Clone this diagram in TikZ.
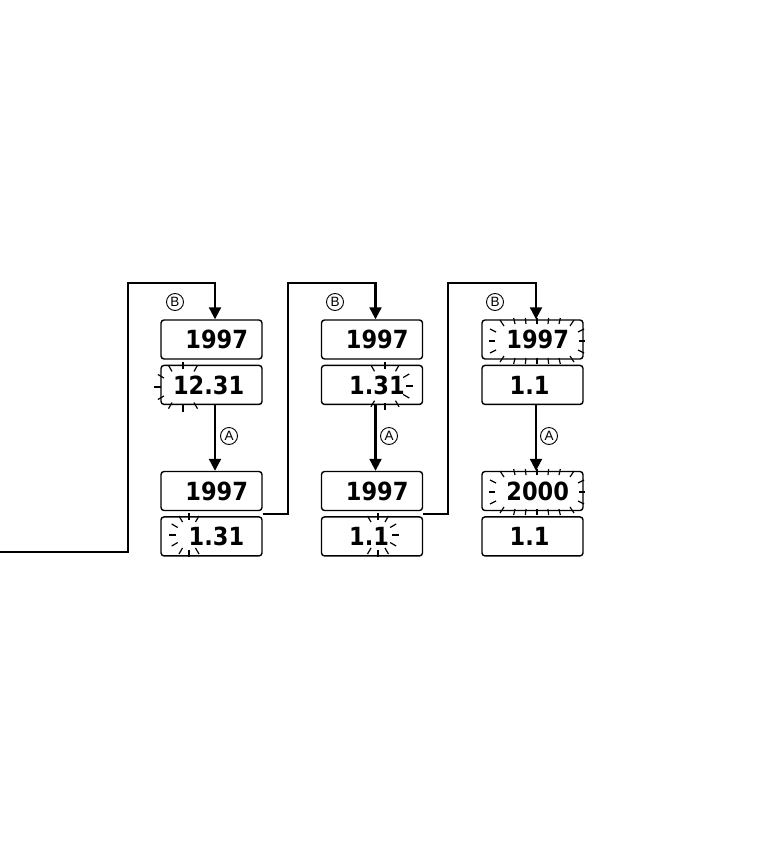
\documentclass[tikz,border=0pt]{standalone}
\usepackage{fontspec}
\setsansfont{Liberation Sans}
\newfontfamily\lcdfont{DejaVu Sans Condensed}
\usetikzlibrary{arrows.meta,positioning,calc}

% flashing marks round a digit group: centre, x radius, y radius, angles
\newcommand{\blinkmarks}[4]{%
  \foreach \a in {#4}{
    \pgfmathsetmacro{\rxo}{#2+7}
    \pgfmathsetmacro{\ryo}{#3+7}
    \draw[blink] ([shift={(\a:#2 and #3)}]#1) -- ([shift={(\a:{\rxo} and {\ryo})}]#1);
  }%
}
% flashing marks round a whole year
\newcommand{\yearblink}[1]{%
  \foreach \v in {-1,1}{
    \foreach \d in {-22,-11,0,11,22}
      \draw[blink] ([shift={(\d,\v*17)}]#1) -- ([shift={(\d*1.06,\v*23)}]#1);
    \foreach \h in {-1,1}{
      \draw[blink] ([shift={(\h*33,\v*15)}]#1) -- ([shift={(\h*37,\v*21)}]#1);
      \draw[blink] ([shift={(\h*41,\v*9)}]#1) -- ([shift={(\h*47,\v*12)}]#1);
    }
    \draw[blink] ([shift={(\v*42,0)}]#1) -- ([shift={(\v*48,0)}]#1);
  }%
}

\begin{document}
\begin{tikzpicture}[
    x=1pt, y=-1pt,
    lcd/.style={draw, rounded corners=3pt, line width=1.4pt, minimum height=39pt,
                font=\lcdfont\bfseries\fontsize{25}{25}\selectfont},
    yearbox/.style={lcd, inner xsep=14pt, text width=73pt, align=right},
    datebox/.style={lcd, inner xsep=12pt, text width=77pt, align=left},
    key/.style={circle, draw, line width=0.9pt, inner sep=0pt, minimum size=17pt,
                font=\sffamily\fontsize{13.5}{13.5}\selectfont},
    flow/.style={line width=2.2pt},
    arrow/.style={flow, -{Triangle[length=12pt,width=12pt]}},
    blink/.style={line width=1.2pt}
]
    \useasboundingbox (0,0) rectangle (756,849);

    % first column
    \node[yearbox] (y1a) at (211.5,339.5) {1997};
    \node[datebox, below=5pt of y1a] (d1a) {12.31};
    \node[yearbox] (y1b) at (211.5,491) {1997};
    \node[datebox, below=5pt of y1b] (d1b) {\hphantom{1}1.31};

    % second column
    \node[yearbox] (y2a) at (372,339.5) {1997};
    \node[datebox, below=5pt of y2a] (d2a) {\hphantom{1}1.31};
    \node[yearbox] (y2b) at (372,491) {1997};
    \node[datebox, below=5pt of y2b] (d2b) {\hphantom{1}1.1};

    % third column
    \node[yearbox] (y3a) at (532.5,339.5) {1997};
    \node[datebox, below=5pt of y3a] (d3a) {\hphantom{1}1.1};
    \node[yearbox] (y3b) at (532.5,491) {2000};
    \node[datebox, below=5pt of y3b] (d3b) {\hphantom{1}1.1};

    % buttons
    \node[key] (b1) at (175,302) {B};
    \node[key] (b2) at (335,302) {B};
    \node[key] (b3) at (495,302) {B};
    \node[key] (a1) at (229,436) {A};
    \node[key] (a2) at (389,436) {A};
    \node[key] (a3) at (549,436) {A};

    \coordinate (entry) at (0,552);
    \coordinate (turn1) at (128,283);
    \coordinate (turn2) at (288,283);
    \coordinate (turn3) at (448,283);

    \draw[arrow] (entry) -| (turn1) -| ([xshift=3.5pt]y1a.north);
    \draw[arrow] ([yshift=2.5pt]d1b.north east) -| (turn2) -| ([xshift=3.5pt]y2a.north);
    \draw[arrow] ([yshift=2.5pt]d2b.north east) -| (turn3) -| ([xshift=3.5pt]y3a.north);

    \draw[arrow] ([xshift=3.5pt]d1a.south) -- ([xshift=3.5pt]y1b.north);
    \draw[arrow] ([xshift=3.5pt]d2a.south) -- ([xshift=3.5pt]y2b.north);
    \draw[arrow] ([xshift=3.5pt]d3a.south) -- ([xshift=3.5pt]y3b.north);

    % flashing digits
    \blinkmarks{183,387}{22}{18}{60,90,...,300}
    \blinkmarks{189,535}{13}{15}{60,90,...,300}
    \blinkmarks{385,386}{21}{17}{-120,-90,...,120}
    \blinkmarks{378,535}{14}{15}{-120,-90,...,120}
    \yearblink{537,341}
    \yearblink{537,492}
\end{tikzpicture}
\end{document}
